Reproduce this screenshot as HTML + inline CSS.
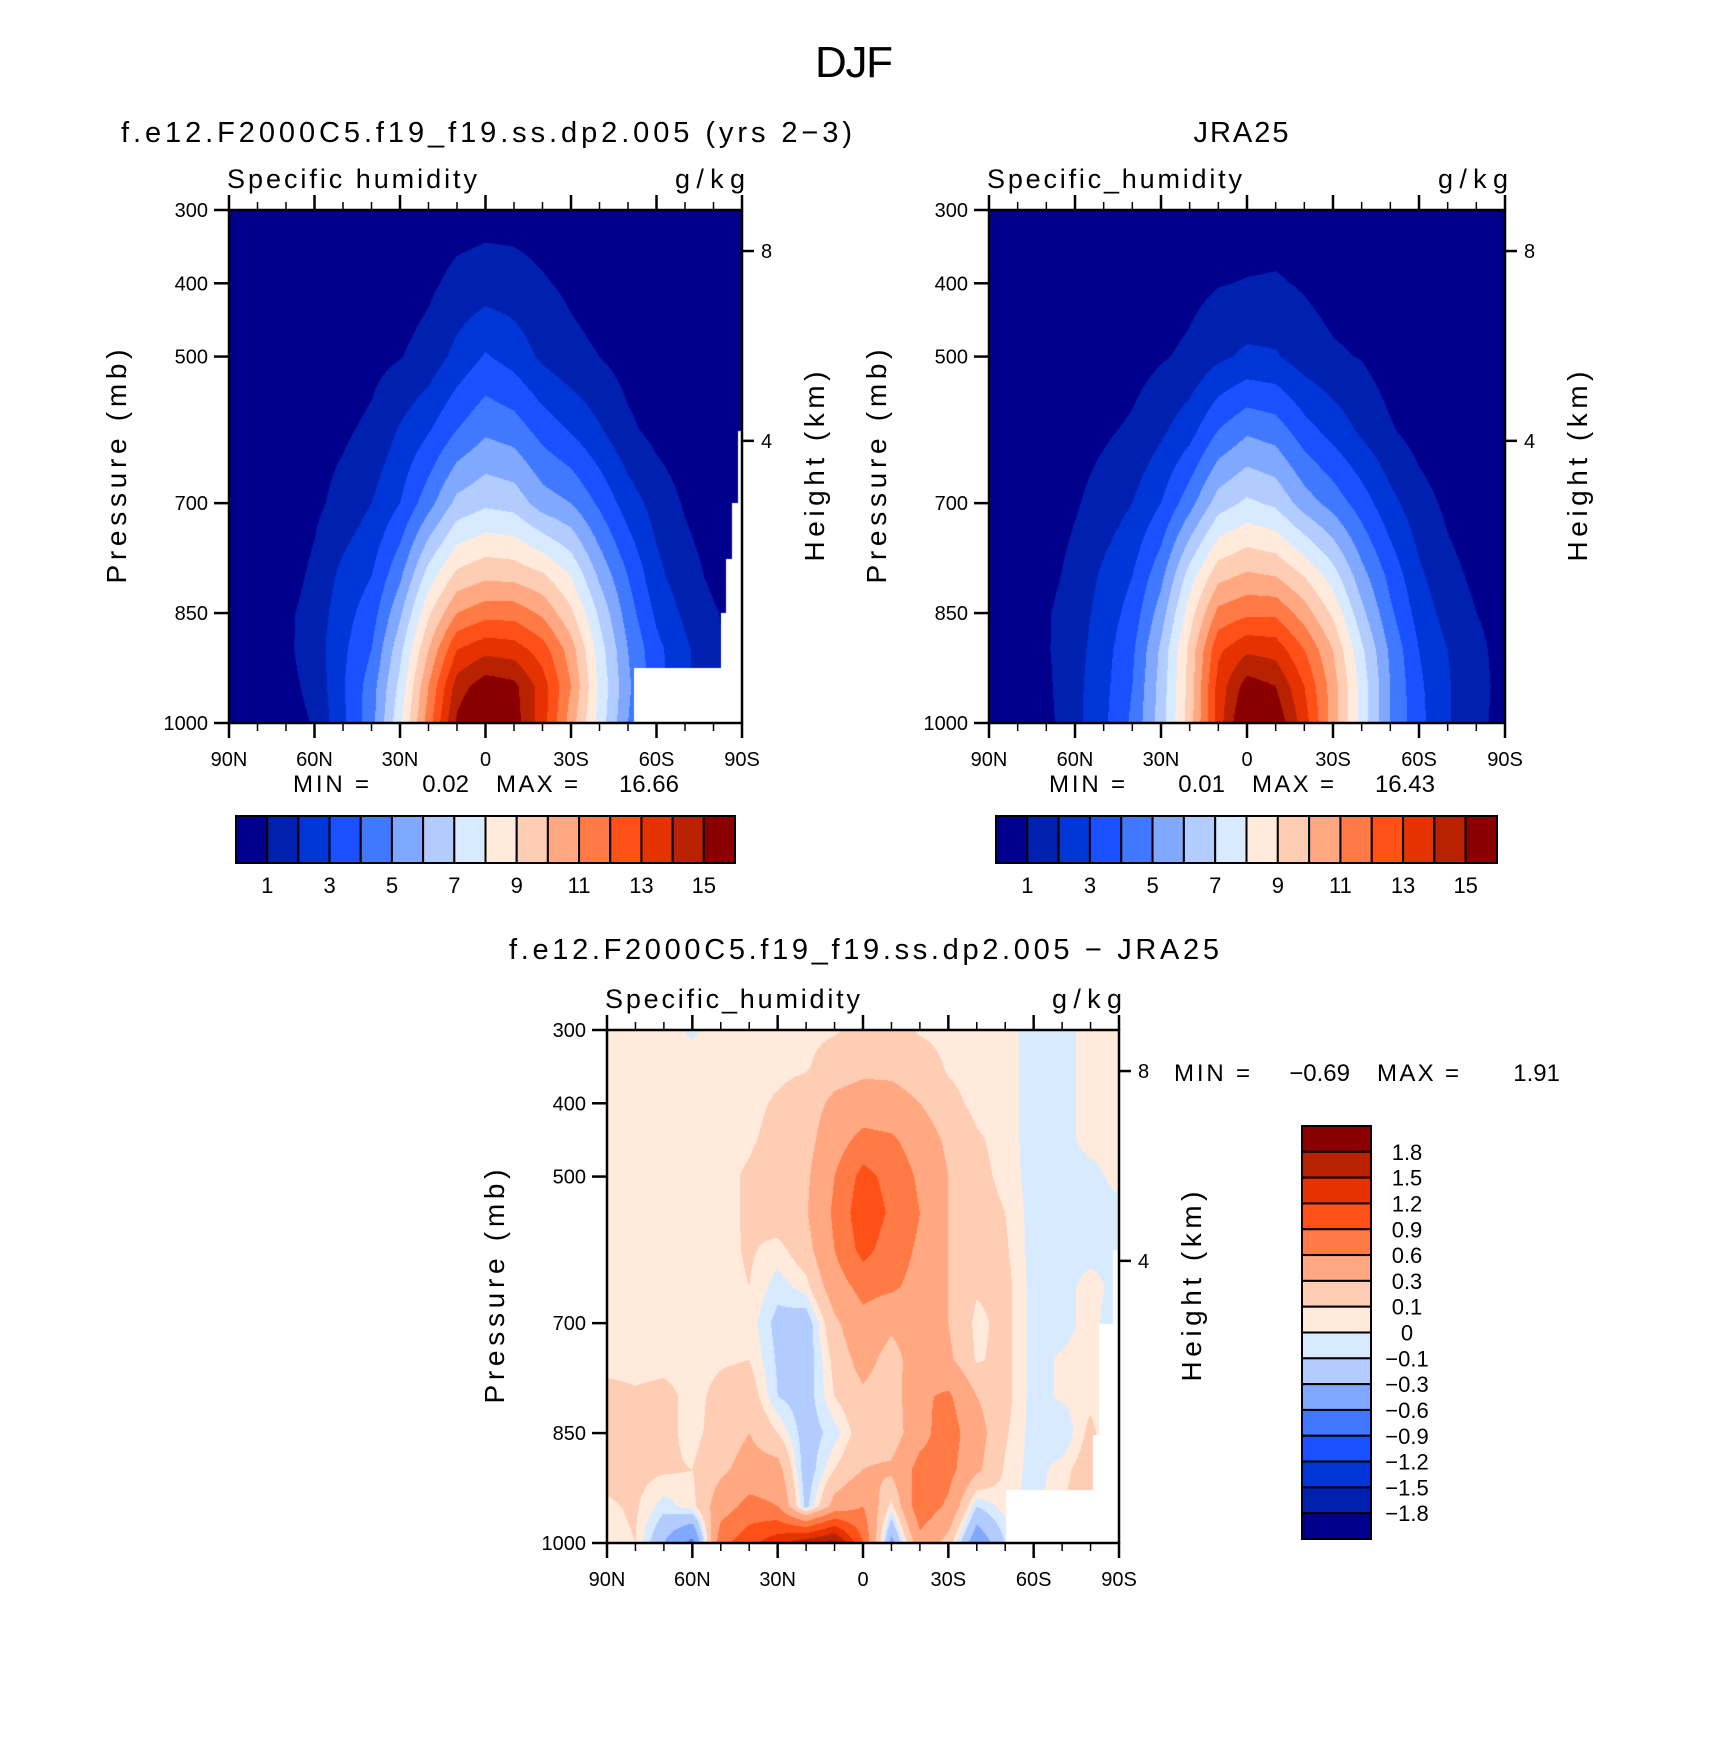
<!DOCTYPE html>
<html><head><meta charset="utf-8"><style>
html,body{margin:0;padding:0;background:#fff}
#root{position:relative;width:1710px;height:1753px;overflow:hidden;background:#fff}
canvas{position:absolute}
svg{position:absolute;left:0;top:0}
text{font-family:"Liberation Sans",sans-serif;fill:#000}
</style></head><body>
<div id="root">
<canvas id="c1" width="513" height="513" style="left:229px;top:210px"></canvas>
<canvas id="c2" width="516" height="513" style="left:989px;top:210px"></canvas>
<canvas id="c3" width="512" height="513" style="left:607px;top:1030px"></canvas>
<svg id="ov" width="1710" height="1753"></svg>
</div>
<script>
// ---- data ----
const lats = [90,80,70,60,50,40,30,20,10,0,-10,-20,-30,-40,-50,-60,-70,-80,-90];
const presA = [300,400,500,600,700,800,850,900,950,1000];
const qModel = [
[.05,.05,.05,.05,.1,.15,.2,.3,.5,.6,.6,.5,.3,.2,.1,.05,.05,.05,.05],
[.1,.1,.1,.1,.2,.3,.5,.8,1.3,1.5,1.4,1.1,.8,.5,.3,.1,.1,.1,.1],
[.1,.1,.15,.2,.4,.7,.95,1.4,2.3,3.1,2.6,1.8,1.3,1.0,.6,.3,.15,.1,.1],
[.15,.2,.3,.7,.85,1.2,2.1,2.9,4.0,4.8,4.5,3.6,2.9,2.1,1.2,.7,.4,.2,.1],
[.2,.3,.4,.8,1.3,2.0,3.0,4.6,6.3,6.8,6.6,5.5,5.0,3.8,2.5,1.6,.9,.5,.3],
[.3,.4,.6,1.2,2.3,3.0,4.8,7.5,9.3,9.8,9.7,9.2,8.0,5.8,4.0,2.3,1.4,.8,.5],
[.3,.5,.8,1.4,2.6,3.5,5.8,8.8,11,11.6,11.6,10.8,9.2,6.8,4.5,2.8,1.8,1.1,.6],
[.3,.5,.8,1.5,2.8,4.0,6.7,10,13,13.7,13.5,12.5,10.5,7.5,5.0,3.3,2.2,1.2,.6],
[.3,.4,.7,1.3,2.9,4.5,7.3,11,14.5,15.6,15.3,13.5,11,7.8,5.2,3.4,2.2,1.2,.6],
[.2,.3,.5,1.1,2.8,4.6,7.8,11.5,15.2,16.6,15.5,13.5,10.5,7.6,5.0,3.4,2.2,1.2,.6]];
const qJra = [
[.05,.05,.05,.05,.05,.1,.15,.25,.35,.45,.5,.4,.25,.15,.1,.05,.05,.05,.05],
[.1,.1,.1,.1,.15,.25,.45,.7,.95,1.05,1.1,.9,.6,.4,.25,.1,.1,.1,.1],
[.1,.1,.15,.2,.35,.6,.9,1.2,1.8,2.2,2.1,1.5,1.15,.95,.5,.25,.15,.1,.1],
[.2,.2,.3,.6,.85,1.15,1.8,2.6,4.0,4.8,4.5,3.4,2.6,1.8,1.1,.6,.3,.2,.2],
[.3,.35,.5,.9,1.4,2.0,3.0,4.6,6.5,7.2,6.8,5.5,4.6,3.5,2.3,1.4,.8,.4,.3],
[.4,.5,.7,1.3,2.2,3.0,4.7,7.5,9.7,10.2,10.0,9.0,7.5,5.4,3.7,2.2,1.3,.8,.5],
[.4,.5,.9,1.5,2.4,3.4,5.5,8.5,11.3,11.8,11.8,10.5,8.8,6.3,4.2,2.6,1.6,1.0,.7],
[.4,.5,.9,1.6,2.6,3.8,6.2,9.3,12.8,13.8,13.6,12,10,7.2,4.8,3.0,2.0,1.2,.7],
[.4,.5,.8,1.7,2.7,4.0,6.4,9.4,13.4,15.5,15,13,10.5,7.6,5.0,3.2,2.1,1.3,.7],
[.4,.5,.7,1.7,2.8,4.2,6.5,9.5,13.5,16.4,15.8,13.5,10.5,7.6,5.0,3.3,2.1,1.3,.6]];
const presD = [300,350,400,450,500,550,600,650,700,750,800,850,900,950,1000];
const qDiff = [
[.05,.05,.05,-.02,.05,.05,.05,.06,.08,.15,.18,.08,.05,.05,.05,-.05,-.05,.05,.05],
[.05,.05,.05,.05,.05,.05,.06,.08,.2,.25,.25,.2,.08,.05,.05,-.05,-.05,.05,.05],
[.05,.05,.05,.05,.05,.06,.12,.2,.35,.4,.38,.3,.15,.06,.05,-.05,-.05,.05,.05],
[.05,.05,.05,.05,.05,.08,.15,.22,.45,.7,.65,.45,.25,.12,.05,-.05,-.05,.05,.05],
[.05,.05,.05,.05,.06,.12,.2,.25,.6,1.0,.8,.55,.3,.15,.06,-.05,-.05,-.05,.05],
[.05,.05,.05,.05,.06,.12,.2,.28,.65,1.1,.85,.6,.3,.18,.1,-.05,-.05,-.05,-.05],
[.05,.05,.05,.05,.05,.12,.05,.2,.6,1.0,.75,.55,.3,.2,.12,-.05,-.05,-.05,-.05],
[.05,.05,.05,.05,.05,.1,-.05,.05,.45,.7,.65,.5,.3,.12,.15,-.05,-.05,.05,-.05],
[.05,.05,.05,.05,.05,.06,-.15,-.2,.25,.5,.35,.45,.3,.06,.15,-.05,-.05,.05,-.1],
[.05,.05,.05,.05,.08,.1,-.12,-.2,.15,.4,.2,.45,.35,.08,.15,-.05,.02,.05,-.1],
[.15,.12,.15,.05,.15,.2,-.1,-.18,.1,.25,.15,.55,.65,.3,.15,-.05,.02,.05,-.1],
[.2,.15,.15,.05,.18,.3,.1,-.18,-.05,.2,.15,.5,.75,.4,.12,-.05,-.1,.15,-.1],
[.15,.15,.12,.1,.25,.4,.4,-.2,.1,.3,.35,.7,.7,.35,.08,-.05,.05,.2,.05],
[.08,.12,-.05,.05,.45,.7,.6,-.15,.4,.6,.05,.8,.55,-.1,.05,-.05,.1,.2,.05],
[.05,.1,-.3,-.7,.8,1.1,1.4,1.7,1.9,.9,-.4,.5,.2,-.5,-.1,.05,.05,.05,.05]];
const levelsQ = [1,2,3,4,5,6,7,8,9,10,11,12,13,14,15];
const levelsD = [-1.8,-1.5,-1.2,-0.9,-0.6,-0.3,-0.1,0,0.1,0.3,0.6,0.9,1.2,1.5,1.8];
const labelsQ = ["1","3","5","7","9","11","13","15"];
const labelsD = ["1.8","1.5","1.2","0.9","0.6","0.3","0.1","0","\u22120.1","\u22120.3","\u22120.6","\u22120.9","\u22121.2","\u22121.5","\u22121.8"];
const minMax1 = ["0.02","16.66"];
const minMax2 = ["0.01","16.43"];
const minMax3 = ["\u22120.69","1.91"];
const missModel = [[-52,925],[-82.5,850],[-84.5,776],[-86.5,700],[-88.5,601]];
const missDiff = [[-50.4,928],[-80.7,852],[-83,701],[-88,600]];
const colors = ["#00008c","#0020b0","#0035d8","#1a50ff","#4078ff","#80a8ff","#b2ccff","#d8eaff","#ffeadb","#ffccb4","#ffa882","#ff7a45","#ff5018","#e63200","#b82200","#8a0000"];
const latTicks = ["90N","60N","30N","0","30S","60S","90S"];
const pTicks = [300,400,500,700,850,1000];

function hex(c){return [parseInt(c.slice(1,3),16),parseInt(c.slice(3,5),16),parseInt(c.slice(5,7),16)];}
const rgb = colors.map(hex);
function interp(grid,pres,lat,p){
  let fi=(90-lat)/10; let i=Math.min(17,Math.max(0,Math.floor(fi))); let ti=fi-i;
  let j=0; while(j<pres.length-2 && p>pres[j+1]) j++;
  let tj=(p-pres[j])/(pres[j+1]-pres[j]);
  const a=grid[j][i],b=grid[j][i+1],c=grid[j+1][i],d=grid[j+1][i+1];
  return (a*(1-ti)+b*ti)*(1-tj)+(c*(1-ti)+d*ti)*tj;
}
function drawField(id,grid,pres,levels,miss){
  const cv=document.getElementById(id),ctx=cv.getContext('2d');
  const W=cv.width,H=cv.height,img=ctx.createImageData(W,H);
  for(let y=0;y<H;y++){const p=300+700*(y+.5)/H;
    for(let x=0;x<W;x++){const lat=90-180*(x+.5)/W;
      let v=interp(grid,pres,lat,p),k=0; while(k<levels.length && v>=levels[k]) k++;
      let col=rgb[k];
      for(const m of miss){ if(lat<=m[0] && p>=m[1]) col=[255,255,255]; }
      const o=(y*W+x)*4; img.data[o]=col[0];img.data[o+1]=col[1];img.data[o+2]=col[2];img.data[o+3]=255;}}
  ctx.putImageData(img,0,0);
}
drawField('c1',qModel,presA,levelsQ,missModel);
drawField('c2',qJra,presA,levelsQ,[]);
drawField('c3',qDiff,presD,levelsD,missDiff);

const NS="http://www.w3.org/2000/svg", ov=document.getElementById('ov');
function el(tag,attrs,txt){const e=document.createElementNS(NS,tag);for(const k in attrs)e.setAttribute(k,attrs[k]);if(txt!==undefined)e.textContent=txt;ov.appendChild(e);return e;}
function txt(x,y,s,size,anchor,name,rot,len){const e=el('text',{x:x,y:y,'font-size':size,'text-anchor':anchor||'start'},s);
  if(len){e.setAttribute('textLength',len);e.setAttribute('lengthAdjust','spacing');}
  if(rot)e.setAttribute('transform','rotate(-90 '+x+' '+y+')');
  
  return e;}

function axes(x0,y0,w,h,pfx,sub,subLen,mm,mmx,mmy){
  const sx=lat=>x0+(90-lat)/180*w, sy=p=>y0+(p-300)/700*h;
  const fr=el('rect',{x:x0,y:y0,width:w,height:h,fill:'none',stroke:'#000','stroke-width':2.5});
  
  
  for(let lat=90;lat>=-90;lat-=10){const major=lat%30===0,L=major?15:8;
    const t1=el('line',{x1:sx(lat),x2:sx(lat),y1:y0+h,y2:y0+h+L,stroke:'#000','stroke-width':major?2.5:1.5});
    
    
    const t2=el('line',{x1:sx(lat),x2:sx(lat),y1:y0,y2:y0-L,stroke:'#000','stroke-width':major?2.5:1.5});
    
    }
  latTicks.forEach((s,i)=>txt(sx(90-30*i),y0+h+43,s,20,'middle',pfx+'-x-tick-label'));
  pTicks.forEach(p=>{const t=el('line',{x1:x0-15,x2:x0,y1:sy(p),y2:sy(p),stroke:'#000','stroke-width':2.5});
    
    
    txt(x0-21,sy(p)+7,String(p),20,'end',pfx+'-y-tick-label');});
  [[356,"8"],[615,"4"]].forEach(a=>{const t=el('line',{x1:x0+w,x2:x0+w+12,y1:sy(a[0]),y2:sy(a[0]),stroke:'#000','stroke-width':2.5});
    
    
    txt(x0+w+19,sy(a[0])+7,a[1],20,'start',pfx+'-height-tick-label');});
  txt(x0-2,y0-22,sub,27,'start',pfx+'-variable-name',false,subLen);
  txt(x0+w+3,y0-22,'g/kg',27,'end',pfx+'-units',false,70);
  txt(x0-103,y0+h/2,'Pressure (mb)',28,'middle',pfx+'-y-axis-title',true,234);
  txt(x0+w+82,y0+h/2,'Height (km)',28,'middle',pfx+'-right-axis-title',true,190);
  txt(mmx,mmy,'MIN =',24,'start',pfx+'-min-label',false,76);
  txt(mmx+176,mmy,mm[0],24,'end',pfx+'-min-value');
  txt(mmx+203,mmy,'MAX =',24,'start',pfx+'-max-label',false,82);
  txt(mmx+386,mmy,mm[1],24,'end',pfx+'-max-value');
}
txt(854,77,'DJF',44,'middle','figure-title',false,78);
txt(121,142,'f.e12.F2000C5.f19_f19.ss.dp2.005 (yrs 2\u22123)',29,'start','panel1-title',false,731);
txt(1241,142,'JRA25',29,'middle','panel2-title',false,95);
txt(864,959,'f.e12.F2000C5.f19_f19.ss.dp2.005 \u2212 JRA25',29,'middle','panel3-title',false,710);
axes(229,210,513,513,'panel1','Specific humidity',250,minMax1,293,792);
axes(989,210,516,513,'panel2','Specific_humidity',255,minMax2,1049,792);
axes(607,1030,512,513,'panel3','Specific_humidity',255,minMax3,1174,1081);

function hbar(x0,y0,w,h,pfx){const bw=w/colors.length;
  colors.forEach((c,i)=>{const r=el('rect',{x:x0+i*bw,y:y0,width:bw,height:h,fill:c,stroke:'#000','stroke-width':2});
    
    });
  labelsQ.forEach((s,i)=>{const k=parseInt(s);txt(x0+k*bw,y0+h+30,s,22,'middle',pfx+'-colorbar-label');});
}
hbar(236,816,499,47,'panel1');
hbar(996,816,501,47,'panel2');
(function(){const x0=1302,y0=1126,w=69,h=413,bh=h/colors.length;
  colors.slice().reverse().forEach((c,i)=>{const r=el('rect',{x:x0,y:y0+i*bh,width:w,height:bh,fill:c,stroke:'#000','stroke-width':2});
    
    });
  labelsD.forEach((s,i)=>txt(1407,y0+(i+1)*bh+8,s,22,'middle','panel3-colorbar-label'));
})();
</script>
</body></html>
